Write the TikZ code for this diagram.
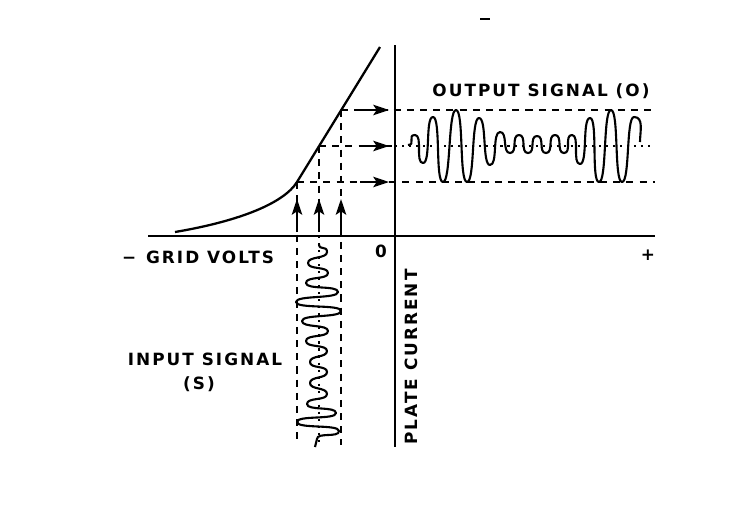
\documentclass[tikz,border=0pt]{standalone}
\usepackage{fontspec}
\newfontfamily\lblfont[LetterSpace=12]{DejaVu Sans}
\usetikzlibrary{arrows.meta}

\begin{document}
\begin{tikzpicture}[x=0.02cm,y=-0.02cm,
    axis/.style={line width=1.3pt},
    guide/.style={line width=1pt,dash pattern=on 4pt off 3.5pt},
    fineguide/.style={line width=0.9pt,dash pattern=on 1.2pt off 2.8pt},
    wave/.style={line width=1.2pt,line join=round},
    hp/.style={to path={.. controls +(8,0) and +(-8,0) .. (\tikztotarget)}},
    vp/.style={to path={.. controls +(0,7) and +(0,-7) .. (\tikztotarget)}},
    feed/.style={line width=1.1pt,-{Stealth[length=9pt,width=6pt,inset=2pt]}},
    lbl/.style={font=\lblfont\bfseries\fontsize{9.6}{11}\selectfont,inner sep=0pt}]

    \useasboundingbox (0,0) rectangle (738,512);

    \coordinate (top) at (395,45);
    \coordinate (bot) at (395,447);
    \coordinate (left) at (148,236);
    \coordinate (right) at (655,236);
    \coordinate (foot) at (175,232);
    \coordinate (lo) at (297,182);
    \coordinate (mid) at (319,146);
    \coordinate (hi) at (341,110);
    \coordinate (tip) at (380,47);

    \coordinate (lo-end) at (655,182);
    \coordinate (mid-end) at (655,146);
    \coordinate (hi-end) at (655,110);
    \coordinate (mid-ax) at (395,146);
    \coordinate (lo-foot) at (297,445);
    \coordinate (mid-foot) at (319,445);
    \coordinate (hi-foot) at (341,445);
    \coordinate (mid-base) at (319,236);

    \draw[axis] (top) -- (bot);
    \draw[axis] (left) -- (right);
    \draw[axis] (foot) .. controls (240,221) and (284,203) .. (lo) -- (tip);

    \draw[guide] (lo) -- (lo-end);
    \draw[guide] (hi) -- (hi-end);
    \draw[guide] (mid) -- (mid-ax);
    \draw[fineguide] (mid-ax) -- (mid-end);

    \draw[guide] (lo) -- (lo-foot);
    \draw[guide] (hi) -- (hi-foot);
    \draw[guide] (mid) -- (mid-base);
    \draw[fineguide] (mid-base) -- (mid-foot);

    \draw[feed] (297,232) -- (297,199);
    \draw[feed] (319,232) -- (319,199);
    \draw[feed] (341,232) -- (341,199);

    \draw[feed] (360,182) -- (389,182);
    \draw[feed] (360,146) -- (389,146);
    \draw[feed] (360,110) -- (389,110);

    \draw[wave] (408,145) to[hp] (415,135) to[hp] (423,163) to[hp] (433,117) to[hp] (443,182) to[hp] (456,110) to[hp] (467,182) to[hp] (479,118) to[hp] (490,165) to[hp] (500,132) to[hp] (510,153) to[hp] (519,135) to[hp] (528,153) to[hp] (537,136) to[hp] (546,153) to[hp] (555,135) to[hp] (564,153) to[hp] (572,135) to[hp] (580,164) to[hp] (590,118) to[hp] (599,182) to[hp] (611,110) to[hp] (622,182) to[hp] (634,117) to[out=0,in=90] (640,142);

    \draw[wave] (319,244) to[vp] (327,252) to[vp] (308,263) to[vp] (328,273) to[vp] (306,283) to[vp] (338,292) to[vp] (296,302) to[vp] (341,311) to[vp] (302,321) to[vp] (328,331) to[vp] (306,341) to[vp] (327,351) to[vp] (310,362) to[vp] (327,372) to[vp] (310,383) to[vp] (327,394) to[vp] (307,404) to[vp] (336,413) to[vp] (297,422) to[vp] (339,431) to[vp] (317,439) -- (315,447);

    \draw[line width=1.3pt] (480,19) -- (490,19);

    \node[lbl] (outlbl) at (541,91) {OUTPUT SIGNAL (O)};
    \node[lbl] (gridlbl) at (198,257) {\textbf{−} GRID VOLTS};
    \node[lbl] (zero) at (381,251) {0};
    \node[lbl] (plus) at (648,255) {+};
    \node[lbl] (inlbl) at (205,359) {INPUT SIGNAL};
    \node[lbl] (inS) at (199,384) {(S)};
    \node[lbl,rotate=90] (platelbl) at (411,357) {PLATE CURRENT};
\end{tikzpicture}
\end{document}
